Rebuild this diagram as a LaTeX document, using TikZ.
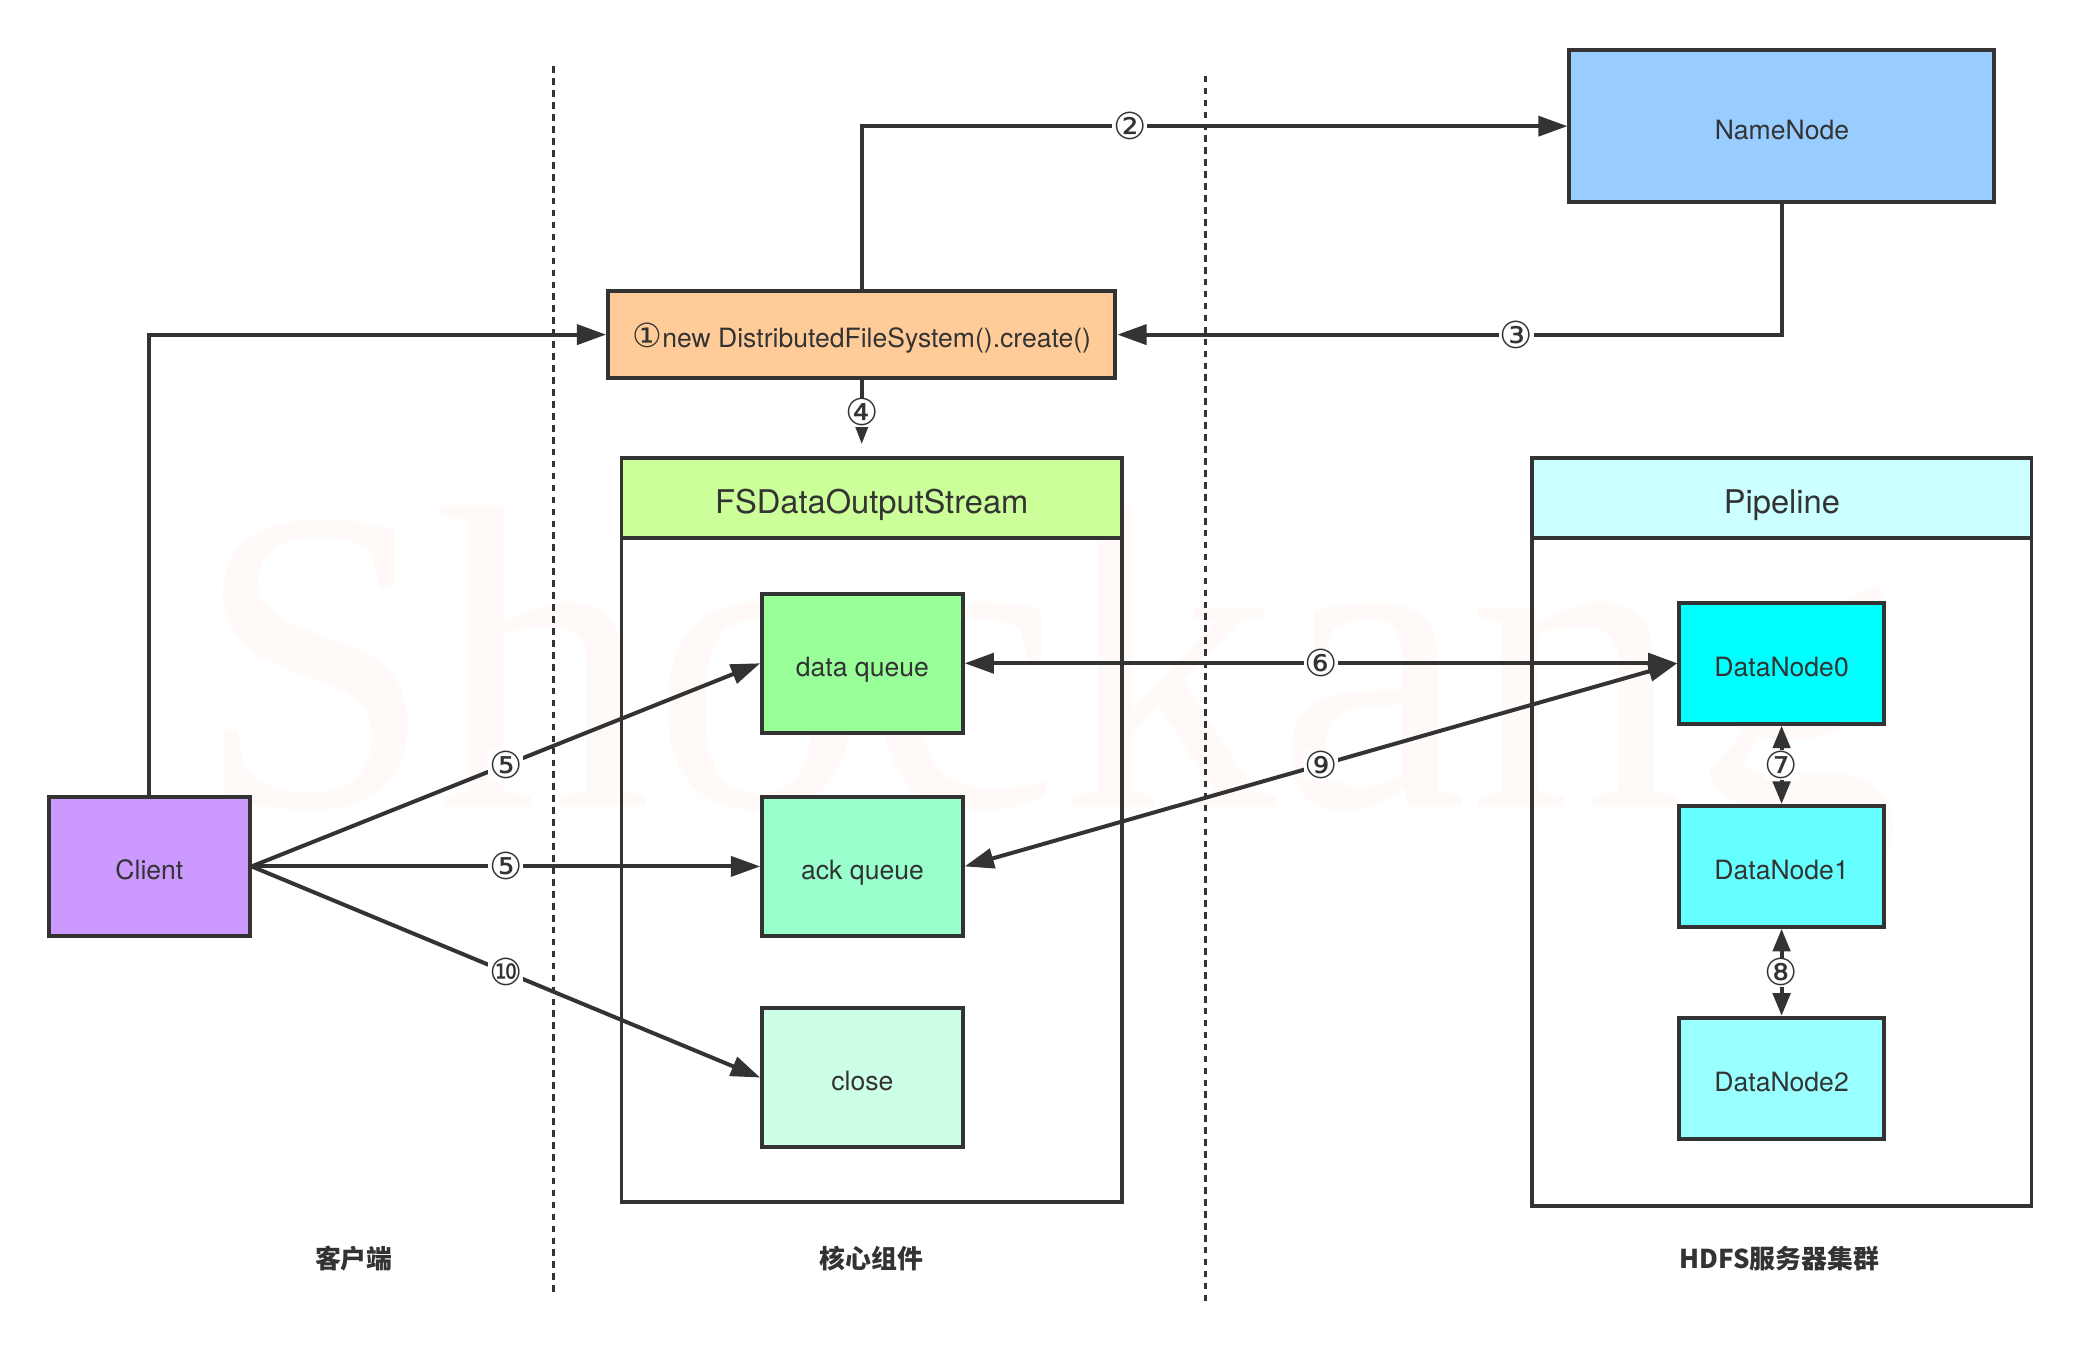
\documentclass[tikz,border=0pt]{standalone}
\usepackage{fontspec}
\setmainfont{TeX Gyre Heros}
\newfontfamily\cjk{Noto Sans CJK SC}
\newfontfamily\dejavu{DejaVu Sans}
\newfontfamily\wmfont{Liberation Serif}
\usetikzlibrary{arrows.meta}
\definecolor{ink}{HTML}{333333}
\definecolor{wmcol}{HTML}{FFF9F8}
\definecolor{cClient}{HTML}{CC99FF}
\definecolor{cCreate}{HTML}{FFCC99}
\definecolor{cName}{HTML}{99CCFF}
\definecolor{cFS}{HTML}{CCFF99}
\definecolor{cData}{HTML}{99FF99}
\definecolor{cAck}{HTML}{99FFCC}
\definecolor{cClose}{HTML}{CCFFE6}
\definecolor{cPipe}{HTML}{CCFFFF}
\definecolor{cDN0}{HTML}{00FFFF}
\definecolor{cDN1}{HTML}{66FFFF}
\definecolor{cDN2}{HTML}{99FFFF}
\begin{document}
\begin{tikzpicture}[x=0.5pt,y=-0.5pt,
  box/.style={draw=ink, line width=1.5pt, text=ink, font=\fontsize{10}{12}\selectfont, inner sep=0pt, anchor=center, text height=10pt, text depth=0pt},
  qbox/.style={box, minimum width=75.5pt, minimum height=52.5pt},
  dnbox/.style={box, minimum width=77pt, minimum height=45.5pt},
  container/.style={draw=ink, line width=1.4pt, inner sep=0pt, anchor=center},
  header/.style={container, text=ink, font=\fontsize{12.3}{14}\selectfont, text height=11.8pt, text depth=0pt},
  conn/.style={draw=ink, line width=1.5pt, -{Triangle[length=11pt,width=7.5pt]}},
  biconn/.style={draw=ink, line width=1.5pt, {Triangle[length=11pt,width=7.5pt]}-{Triangle[length=11pt,width=7.5pt]}},
  smallbi/.style={draw=ink, line width=1.5pt, {Triangle[length=8.5pt,width=6.5pt]}-{Triangle[length=8.5pt,width=6.5pt]}},
  smallconn/.style={draw=ink, line width=1.5pt, -{Triangle[length=7pt,width=4.8pt]}},
  num/.style={fill=white, inner sep=0.3pt, font=\dejavu\fontsize{14}{16}\selectfont, text=ink},
  sepline/.style={draw=ink, line width=1pt, dash pattern=on 2.5pt off 2pt},
  zone/.style={font=\cjk\bfseries\fontsize{9.75}{12}\selectfont, text=ink}
]
\useasboundingbox (0,0) rectangle (1568,1019.7);

% watermark
\node[font=\wmfont\fontsize{163}{163}\selectfont, text=wmcol, anchor=base west, inner sep=0pt] (wm) at (146,607) {Shockang};

% separators
\coordinate (s1a) at (417,50);
\coordinate (s1b) at (417,973);
\coordinate (s2a) at (908,57);
\coordinate (s2b) at (908,981);
\draw[sepline] (s1a) -- (s1b);
\draw[sepline] (s2a) -- (s2b);

% containers
\node[container, minimum width=188.5pt, minimum height=280pt] (fs) at (656.5,625) {};
\node[header, fill=cFS, minimum width=188.5pt, minimum height=30pt] (fsh) at (656.5,375) {FSDataOutputStream};
\node[container, minimum width=188pt, minimum height=281.5pt] (pl) at (1342,626.5) {};
\node[header, fill=cPipe, minimum width=188pt, minimum height=30pt] (plh) at (1342,375) {Pipeline};

% nodes
\node[box, fill=cName, minimum width=160pt, minimum height=57pt] (nn) at (1342,95) {NameNode};
\node[box, fill=cCreate, minimum width=191pt, minimum height=33pt] (create) at (649,252) {{\dejavu\fontsize{12.5}{12}\selectfont ①}new DistributedFileSystem().create()};
\node[qbox, fill=cClient] (client) at (112.5,652.5) {Client};
\node[qbox, fill=cData] (dq) at (649.5,499.5) {data queue};
\node[qbox, fill=cAck] (aq) at (649.5,652.5) {ack queue};
\node[qbox, fill=cClose] (cl) at (649.5,811.5) {close};
\node[dnbox, fill=cDN0] (dn0) at (1341.75,499.5) {DataNode0};
\node[dnbox, fill=cDN1] (dn1) at (1341.75,652.5) {DataNode1};
\node[dnbox, fill=cDN2] (dn2) at (1341.75,812) {DataNode2};

% zone labels
\node[zone] (z1) at (266.5,948) {客户端};
\node[zone] (z2) at (656.5,948) {核心组件};
\node[zone] (z3) at (1340,948) {HDFS服务器集群};

% connectors
\path (fsh.north -| create.south) coordinate (t4a);
\coordinate (t4) at ([yshift=4.5pt]t4a);
\draw[conn] (client.north) |- (create.west);
\draw[conn] (create.north) |- node[num, pos=0.69] {②} (nn.west);
\draw[conn] (nn.south) |- node[num, pos=0.70] {③} (create.east);
\draw[smallconn] (create.south) -- node[num] {④} (t4);
\draw[conn] (client.east) -- node[num] {⑤} (dq.west);
\draw[conn] (client.east) -- node[num] {⑤} (aq.west);
\draw[conn] (client.east) -- node[num] {⑩} (cl.west);
\draw[biconn] (dq.east) -- node[num] {⑥} (dn0.west);
\draw[biconn] (aq.east) -- node[num] {⑨} (dn0.west);
\draw[smallbi] (dn0.south) -- node[num] {⑦} (dn1.north);
\draw[smallbi] (dn1.south) -- node[num] {⑧} (dn2.north);
\end{tikzpicture}
\end{document}
